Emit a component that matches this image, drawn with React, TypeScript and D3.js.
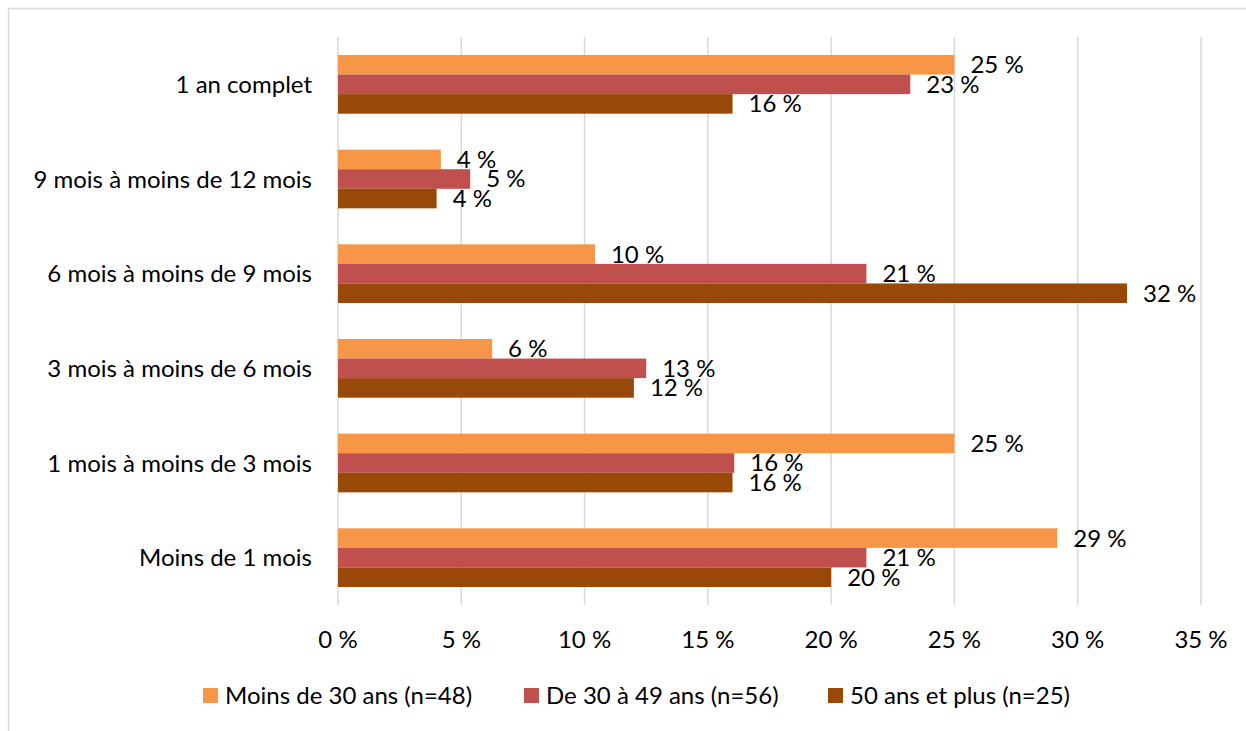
import * as d3 from 'd3';

const categories = [
  '1 an complet',
  '9 mois à moins de 12 mois',
  '6 mois à moins de 9 mois',
  '3 mois à moins de 6 mois',
  '1 mois à moins de 3 mois',
  'Moins de 1 mois',
];

const seriesNames = ['Moins de 30 ans (n=48)', 'De 30 à 49 ans (n=56)', '50 ans et plus (n=25)'];
const seriesColors = ['#F79646', '#C0504D', '#984807'];

// percentages, same order as categories
const under30 = [25.0, 4.17, 10.42, 6.25, 25.0, 29.17];
const from30to49 = [23.21, 5.36, 21.43, 12.5, 16.07, 21.43];
const over50 = [16.0, 4.0, 32.0, 12.0, 16.0, 20.0];
const seriesValues = [under30, from30to49, over50];

const xTicks = [0, 5, 10, 15, 20, 25, 30, 35];

const W = 1246;
const H = 731;
const font = 'Lato, "Open Sans", sans-serif';

export default function App() {
  const x = d3.scaleLinear().domain([0, 35]).range([338, 1201]);
  const y = d3.scaleBand<string>().domain(categories).range([37, 605]).paddingInner(0.38).paddingOuter(0.19);
  const ySub = d3
    .scaleBand<number>()
    .domain(d3.range(seriesNames.length))
    .range([0, y.bandwidth()]);

  const legendX = [203, 524, 828];

  return (
    <div style={{ position: 'absolute', left: 0, top: 0 }}>
      <svg width={W} height={H} style={{ display: 'block', fontFamily: font }}>
        <rect x={0} y={0} width={W} height={H} fill="#fff" />
        <rect x={8.5} y={8.5} width={W + 20} height={H + 20} fill="none" stroke="#d9d9d9" strokeWidth={1.5} />

        {/* grid */}
        {xTicks.map((t) => (
          <line key={t} x1={x(t)} x2={x(t)} y1={37} y2={605} stroke="#d9d9d9" strokeWidth={1.5} />
        ))}

        {/* bars */}
        {categories.map((c, ci) => (
          <g key={c} transform={`translate(0,${y(c)})`}>
            {seriesValues.map((vals, si) => (
              <rect
                key={si}
                x={x(0)}
                y={ySub(si)}
                width={x(vals[ci]) - x(0)}
                height={ySub.bandwidth()}
                fill={seriesColors[si]}
              />
            ))}
            {seriesValues.map((vals, si) => (
              <text
                key={'l' + si}
                x={x(vals[ci]) + 16}
                y={(ySub(si) as number) + ySub.bandwidth() / 2 + 8.5}
                fontSize={24}
                fill="#000"
              >
                {Math.round(vals[ci])} %
              </text>
            ))}
          </g>
        ))}

        {/* category labels */}
        {categories.map((c) => (
          <text
            key={c}
            x={312}
            y={(y(c) as number) + y.bandwidth() / 2 + 8.5}
            textAnchor="end"
            fontSize={24}
            fill="#000"
          >
            {c}
          </text>
        ))}

        {/* x axis labels */}
        {xTicks.map((t) => (
          <text key={t} x={x(t)} y={648} textAnchor="middle" fontSize={24} fill="#000">
            {t} %
          </text>
        ))}

        {/* legend */}
        {seriesNames.map((s, i) => (
          <g key={s} transform={`translate(${legendX[i]},688)`}>
            <rect x={0} y={0} width={15} height={15} fill={seriesColors[i]} />
            <text x={22} y={16} fontSize={24} fill="#000">
              {s}
            </text>
          </g>
        ))}
      </svg>
    </div>
  );
}
